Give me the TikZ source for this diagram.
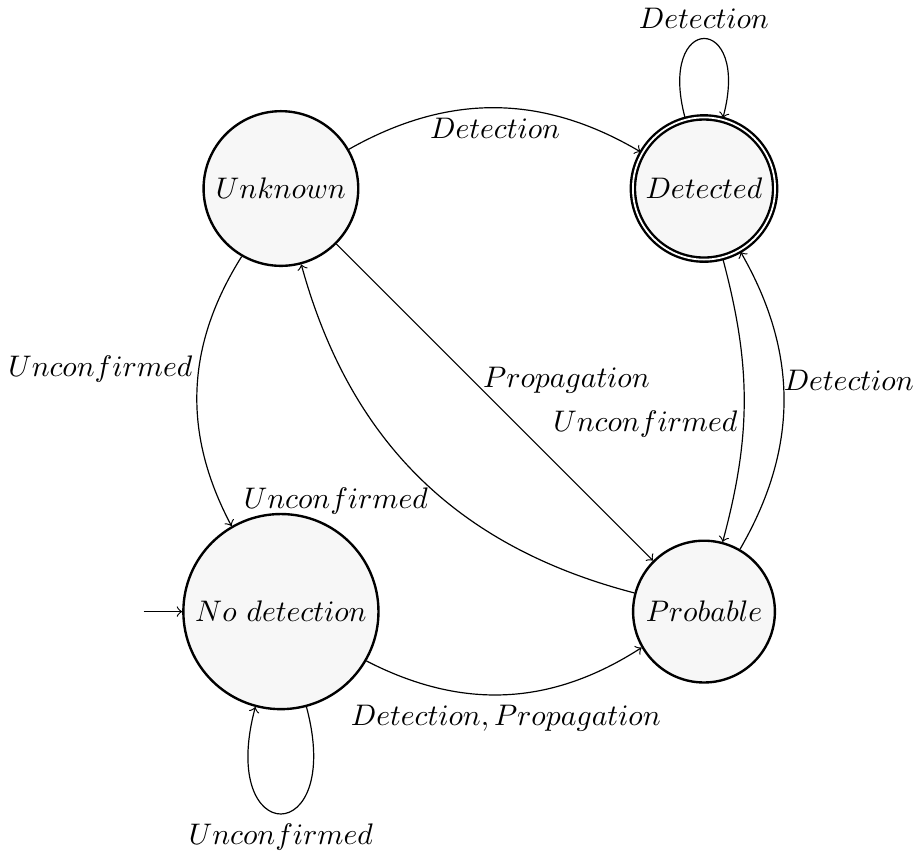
\documentclass[tikz,border=0pt]{standalone}
\usetikzlibrary{automata,arrows}
\begin{document}
\tikzset{
  every state/.style={thick, fill=gray!6},
  every loop/.style={looseness=7.4, min distance=5mm},
  trans/.style={->},
}
\begin{tikzpicture}
\useasboundingbox (-3.32,-7.985) rectangle (7.47,2.228);
\node[state] (U) at (0,0) {$Unknown$};
\node[state,accepting] (D) at (5,0) {$Detected$};
\node[state,initial,initial text={}] (N) at (0,-5) {$No\ detection$};
\node[state] (P) at (5,-5) {$Probable$};
\path[trans]
 (U) edge[bend left] node[below] {$Detection$} (D)
 (D) edge[loop above] node[above] {$Detection$} (D)
 (U) edge[bend right] node[above left, xshift=2pt, yshift=-1pt] {$Unconfirmed$} (N)
 (U) edge node[pos=0.43, anchor=west] {$Propagation$} (P)
 (D) edge[bend left=15] node[below left, xshift=1.3pt] {$Unconfirmed$} (P)
 (P) edge[bend right=30] node[above right, xshift=-3.6pt] {$Detection$} (D)
 (P) edge[bend left] node[below left, xshift=6.4pt] {$Unconfirmed$} (U)
 (N) edge[bend right] node[below] {$Detection, Propagation$} (P)
 (N) edge[loop below] node[below] {$Unconfirmed$} (N);
\end{tikzpicture}
\end{document}
